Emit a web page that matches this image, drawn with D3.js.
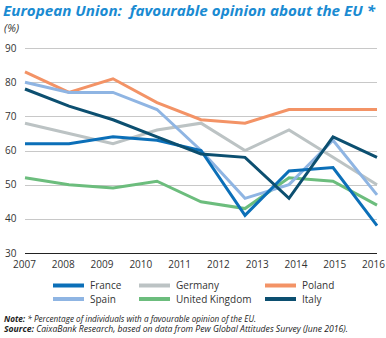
<!DOCTYPE html>
<html><head><meta charset="utf-8">
<script src="https://cdn.jsdelivr.net/npm/d3@7"></script>
<style>
body{margin:0;background:#fff;}
svg{display:block;font-family:"Open Sans",sans-serif;}
</style></head>
<body><svg id="c" width="386" height="338"></svg>
<script>
const dataYears = [2007, 2009, 2010, 2011, 2012, 2013, 2014, 2015, 2016];
const tickLabels = ["2007","2008","2009","2010","2011","2012","2013","2014","2015","2016"];
const yTicks = [30, 40, 50, 60, 70, 80, 90];
const seriesNames = ["France", "Germany", "Poland", "Spain", "United Kingdom", "Italy"];
const france  = [62, 62, 64, 63, 60, 41, 54, 55, 38];
const germany = [68, 65, 62, 66, 68, 60, 66, 58, 50];
const poland  = [83, 77, 81, 74, 69, 68, 72, 72, 72];
const spain   = [80, 77, 77, 72, 60, 46, 50, 63, 47];
const uk      = [52, 50, 49, 51, 45, 43, 52, 51, 44];
const italy   = [78, 73, 69, 64, 59, 58, 46, 64, 58];
const colors = {"France":"#0b6fb8","Germany":"#bcc3c4","Poland":"#f39366","Spain":"#8fb5e3","United Kingdom":"#6cbd7d","Italy":"#0c4f70"};
const values = {"France":france,"Germany":germany,"Poland":poland,"Spain":spain,"United Kingdom":uk,"Italy":italy};
const drawOrder = ["Germany","Poland","United Kingdom","Spain","France","Italy"];

const svg = d3.select("#c");
const x = d3.scalePoint().domain(dataYears).range([25, 377]);
const xl = d3.scalePoint().domain(tickLabels).range([24, 373]);
const y = d3.scaleLinear().domain([30, 90]).range([253, 48]);

svg.append("text").attr("x", 3).attr("y", 16)
  .attr("fill", "#1a8bd2").attr("font-weight", "bold").attr("font-style", "italic")
  .attr("font-size", 15).attr("textLength", 372).attr("lengthAdjust", "spacingAndGlyphs")
  .text("European Union:\u00a0 favourable opinion about the EU *");
svg.append("text").attr("x", 4).attr("y", 32).attr("fill", "#333")
  .attr("font-style", "italic").attr("font-size", 11).text("(%)");

// grid
const gy = svg.append("g");
gy.selectAll("line").data(yTicks).join("line")
  .attr("x1", 25).attr("x2", 377)
  .attr("y1", d => Math.round(y(d)) + 0.5).attr("y2", d => Math.round(y(d)) + 0.5)
  .attr("stroke", d => d === 30 ? "#222" : "#c8c8c8").attr("stroke-width", 1);
gy.selectAll("text").data(yTicks).join("text")
  .attr("x", 5).attr("y", d => y(d) + 3.5).attr("font-size", 10).attr("fill", "#333")
  .text(d => d);

// x labels via axis
const xa = svg.append("g").attr("transform", "translate(0,253)")
  .call(d3.axisBottom(xl).tickSize(0).tickPadding(8));
xa.select(".domain").remove();
xa.selectAll("text").attr("font-size", 10).attr("fill", "#333").attr("font-family", "Open Sans, sans-serif");

// lines
const line = d3.line().x((d, i) => x(dataYears[i])).y(d => y(d));
svg.append("g").selectAll("path").data(drawOrder).join("path")
  .attr("d", n => line(values[n])).attr("fill", "none")
  .attr("stroke", n => colors[n]).attr("stroke-width", 3).attr("stroke-linejoin", "miter");

// legend
const legX = [53, 139, 265];
const leg = svg.append("g");
seriesNames.forEach((n, i) => {
  const lx = legX[i % 3], ly = i < 3 ? 285.5 : 299;
  leg.append("line").attr("x1", lx).attr("x2", lx + 31).attr("y1", ly).attr("y2", ly)
    .attr("stroke", colors[n]).attr("stroke-width", 4);
  leg.append("text").attr("x", lx + 37).attr("y", ly + 3.5).attr("font-size", 10)
    .attr("fill", "#333").text(n);
});

// notes
const n1 = svg.append("text").attr("x", 4).attr("y", 322).attr("font-size", 8.5).attr("font-style", "italic").attr("fill", "#222")
  .attr("textLength", 252).attr("lengthAdjust", "spacingAndGlyphs");
n1.append("tspan").attr("font-weight", "bold").text("Note:");
n1.append("tspan").text(" * Percentage of individuals with a favourable opinion of the EU.");
const n2 = svg.append("text").attr("x", 4).attr("y", 332).attr("font-size", 8.5).attr("font-style", "italic").attr("fill", "#222")
  .attr("textLength", 344).attr("lengthAdjust", "spacingAndGlyphs");
n2.append("tspan").attr("font-weight", "bold").text("Source:");
n2.append("tspan").text(" CaixaBank Research, based on data from Pew Global Attitudes Survey (June 2016).");
</script></body></html>
